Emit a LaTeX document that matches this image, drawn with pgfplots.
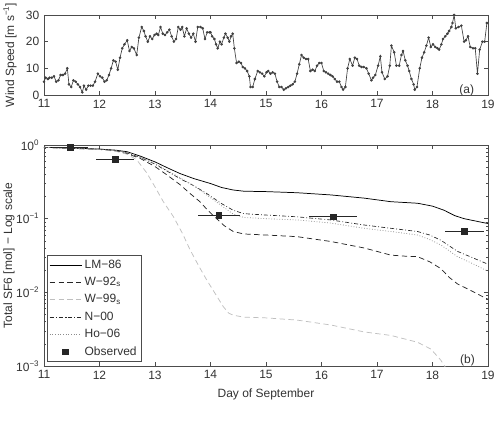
\documentclass[border=0pt]{standalone}
\usepackage{pgfplots}
\pgfplotsset{compat=1.18}
\usepackage{fontspec}
\setmainfont{Liberation Sans}
\begin{document}
\begin{tikzpicture}
\useasboundingbox (0,0) rectangle (372pt,326.25pt);
\pgfplotsset{
  every axis/.append style={
    scale only axis, width=333pt,
    xmin=11, xmax=19, xtick={11,...,19},
    axis line style={black!70},
    every tick/.style={black!70, line width=0.4pt},
    major tick length=3pt, minor tick length=1.6pt,
    tick label style={font=\fontsize{9}{10}\selectfont, text=black!80},
    label style={font=\fontsize{9}{10}\selectfont, text=black!80},
    /pgf/number format/assume math mode=true,
    y label style={at={(axis description cs:-0.092,0.5)}, anchor=north, inner sep=0pt},
  }
}
% (a) wind speed
\begin{axis}[at={(33pt,255pt)}, anchor=south west, height=60pt,
  ymin=0, ymax=30, ytick={0,10,20,30},
  ylabel={Wind Speed [m s\textsuperscript{−1}]}]
\addplot[black!75, line width=0.5pt, mark=*, mark size=0.7pt] table {
11.00 5
11.03 6.5
11.07 6
11.10 6.5
11.14 6.5
11.18 7
11.22 5
11.26 5.5
11.30 7.5
11.34 7.5
11.38 8
11.42 10
11.45 4
11.49 3
11.53 5.5
11.57 5
11.61 4
11.65 3
11.69 1
11.72 3.5
11.76 2
11.80 3.5
11.84 3.5
11.88 3.5
11.92 5
11.97 8
12.01 7
12.05 6.5
12.09 5
12.13 5.5
12.17 7.5
12.21 10
12.25 13
12.29 12.5
12.33 9.5
12.37 14
12.41 17.5
12.45 19
12.50 20.5
12.54 16.5
12.58 18
12.62 17.5
12.67 15
12.71 21.5
12.76 25.5
12.80 24
12.83 22
12.87 20
12.91 22
12.95 21
12.99 22.5
13.03 23
13.06 22.5
13.10 25.5
13.14 23
13.18 22.5
13.22 23.5
13.26 24.5
13.30 22
13.34 20
13.38 21
13.42 25.5
13.46 24.5
13.49 25.5
13.53 22
13.57 25
13.61 23
13.65 21.5
13.69 23
13.73 20
13.77 25.5
13.82 25.5
13.86 25
13.90 21
13.94 23.5
13.98 23.5
14.00 23.5
14.03 22
14.07 21
14.10 19
14.13 17.5
14.17 20
14.20 19
14.24 21.5
14.27 23
14.31 21.5
14.34 20
14.37 22
14.40 23
14.43 17.5
14.47 12
14.51 12.5
14.55 12
14.58 10.5
14.62 10
14.66 9
14.70 7
14.72 3
14.76 3
14.80 6
14.85 9
14.89 8.5
14.93 8
14.97 7
15.01 8.5
15.04 9
15.08 8
15.12 8.5
15.16 8
15.20 5
15.24 3
15.28 3
15.32 2
15.36 2.5
15.40 3
15.44 3.5
15.48 4
15.52 5
15.56 8
15.60 11.5
15.64 15
15.68 14
15.72 13.5
15.76 13.5
15.80 9
15.84 9.5
15.88 9
15.92 11
15.96 12
16.00 12
16.04 9
16.08 8.5
16.12 8
16.16 7.5
16.20 7
16.24 6
16.28 5
16.32 5
16.36 3
16.39 2
16.43 3
16.47 10
16.51 13.5
16.56 11
16.60 14
16.64 13.5
16.68 11
16.72 10.5
16.76 10.5
16.81 10
16.85 8
16.90 5.5
16.93 6.5
16.97 7.5
17.02 11
17.06 14.5
17.09 8.5
17.14 6
17.19 7
17.23 11
17.26 18.5
17.31 16
17.35 11
17.40 11
17.44 15
17.47 16.5
17.51 13
17.55 11
17.58 9
17.62 6
17.66 4
17.68 2
17.72 3
17.77 10
17.81 14
17.85 16
17.89 18.5
17.93 21.5
17.97 18
18.01 19
18.05 18
18.09 17.5
18.12 17
18.16 19
18.19 21
18.23 22
18.27 23
18.30 24
18.34 25.5
18.36 27
18.39 30
18.42 25
18.47 25.5
18.52 26
18.57 20
18.60 20.5
18.64 22
18.68 18
18.73 17.5
18.77 17.5
18.81 8
18.85 17
18.90 20
18.94 20
18.98 27
};
\node[font=\fontsize{9}{10}\selectfont, text=black!80] at (rel axis cs:0.952,0.0625) {(a)};
\end{axis}

% (b) total SF6, log scale
\begin{axis}[at={(33pt,51.75pt)}, anchor=south west, height=165.75pt,
  ymode=log, ymin=1e-3, ymax=1,
  ytick={1e-3,1e-2,1e-1,1},
  yticklabels={10\textsuperscript{−3},10\textsuperscript{−2},10\textsuperscript{−1},10\textsuperscript{0}},
  xlabel={Day of September},
  ylabel={Total SF6 [mol] − Log scale},
  legend style={at={(rel axis cs:0.007,0.018)}, anchor=south west,
    draw=black!70, font=\fontsize{9}{10}\selectfont, text=black!80,
    row sep=1.2pt, inner sep=1.5pt},
  legend cell align=left,
  legend image code/.code={\draw[mark repeat=2,mark phase=2,#1] plot coordinates {(0cm,0cm) (0.42cm,0cm) (0.84cm,0cm)};},
]
\addplot[black, line width=0.55pt] table {
11.0 0.93
11.5 0.91
12.0 0.88
12.3 0.85
12.5 0.81
12.75 0.70
13.0 0.59
13.25 0.48
13.45 0.41
13.7 0.35
14.0 0.30
14.2 0.265
14.41 0.245
14.6 0.236
15.0 0.233
15.56 0.225
16.17 0.21
16.77 0.19
17.25 0.17
17.73 0.162
18.0 0.148
18.21 0.13
18.4 0.11
18.57 0.10
18.96 0.087
19.0 0.086
};
\addlegendentry{LM−86}
\addplot[black!85, line width=0.55pt, dash pattern=on 4pt off 2.6pt] table {
11.0 0.93
11.5 0.90
12.0 0.87
12.3 0.83
12.5 0.76
12.73 0.66
13.0 0.51
13.2 0.40
13.45 0.29
13.63 0.22
13.81 0.17
13.95 0.13
14.11 0.10
14.25 0.08
14.41 0.067
14.6 0.062
15.0 0.06
15.56 0.057
16.17 0.049
16.77 0.040
17.25 0.032
17.5 0.031
17.73 0.0305
17.95 0.026
18.15 0.021
18.3 0.016
18.45 0.013
18.7 0.0105
18.96 0.0083
19.0 0.0081
};
\addlegendentry{W−92\textsubscript{s}}
\addplot[black!25, line width=0.55pt, dash pattern=on 4pt off 2.6pt] table {
11.0 0.93
11.5 0.90
12.0 0.87
12.3 0.82
12.5 0.75
12.67 0.63
12.85 0.42
13.0 0.27
13.15 0.17
13.33 0.107
13.5 0.062
13.63 0.038
13.8 0.022
13.93 0.0148
14.1 0.0092
14.23 0.0064
14.33 0.0052
14.41 0.0049
14.6 0.0046
15.0 0.0045
15.56 0.0042
16.17 0.0036
16.77 0.0029
17.25 0.0026
17.73 0.0021
17.97 0.0017
18.15 0.0012
18.3 0.0008
};
\addlegendentry{W−99\textsubscript{s}}
\addplot[black!85, line width=0.5pt, dash pattern=on 3pt off 1.6pt on 0.6pt off 1.6pt] table {
11.0 0.93
11.5 0.90
12.0 0.88
12.3 0.84
12.5 0.78
12.75 0.67
13.0 0.55
13.2 0.45
13.45 0.35
13.7 0.28
13.93 0.22
14.2 0.16
14.41 0.13
14.6 0.117
15.0 0.112
15.56 0.106
16.17 0.096
16.77 0.082
17.25 0.074
17.73 0.067
17.95 0.06
18.15 0.051
18.45 0.036
18.7 0.030
18.96 0.0248
19.0 0.024
};
\addlegendentry{N−00}
\addplot[black!45, line width=0.55pt, dash pattern=on 0.6pt off 1.4pt] table {
11.0 0.93
11.5 0.90
12.0 0.88
12.3 0.845
12.5 0.79
12.75 0.68
13.0 0.56
13.2 0.46
13.45 0.36
13.7 0.28
13.93 0.21
14.2 0.15
14.41 0.115
14.6 0.104
15.0 0.10
15.56 0.096
16.17 0.087
16.77 0.074
17.25 0.067
17.73 0.06
17.95 0.052
18.15 0.044
18.45 0.0305
18.7 0.025
18.96 0.020
19.0 0.0195
};
\addlegendentry{Ho−06}
\addplot[only marks, mark=square*, mark size=2.2pt, black!85,
  error bars/.cd, x dir=both, x explicit, y dir=both, y explicit,
  error mark=none, error bar style={line width=0.6pt, black!85}]
  table[x=x, y=y, x error=ex, y error=ey] {
x     y      ex    ey
11.47 0.93   0.32  0.07
12.28 0.64   0.35  0.05
14.15 0.112  0.38  0.009
16.21 0.106  0.43  0.009
18.57 0.0667 0.35  0.005
};
\addlegendentry{Observed}
\node[font=\fontsize{9}{10}\selectfont, text=black!80] at (rel axis cs:0.954,0.026) {(b)};
\end{axis}
\end{tikzpicture}
\end{document}
